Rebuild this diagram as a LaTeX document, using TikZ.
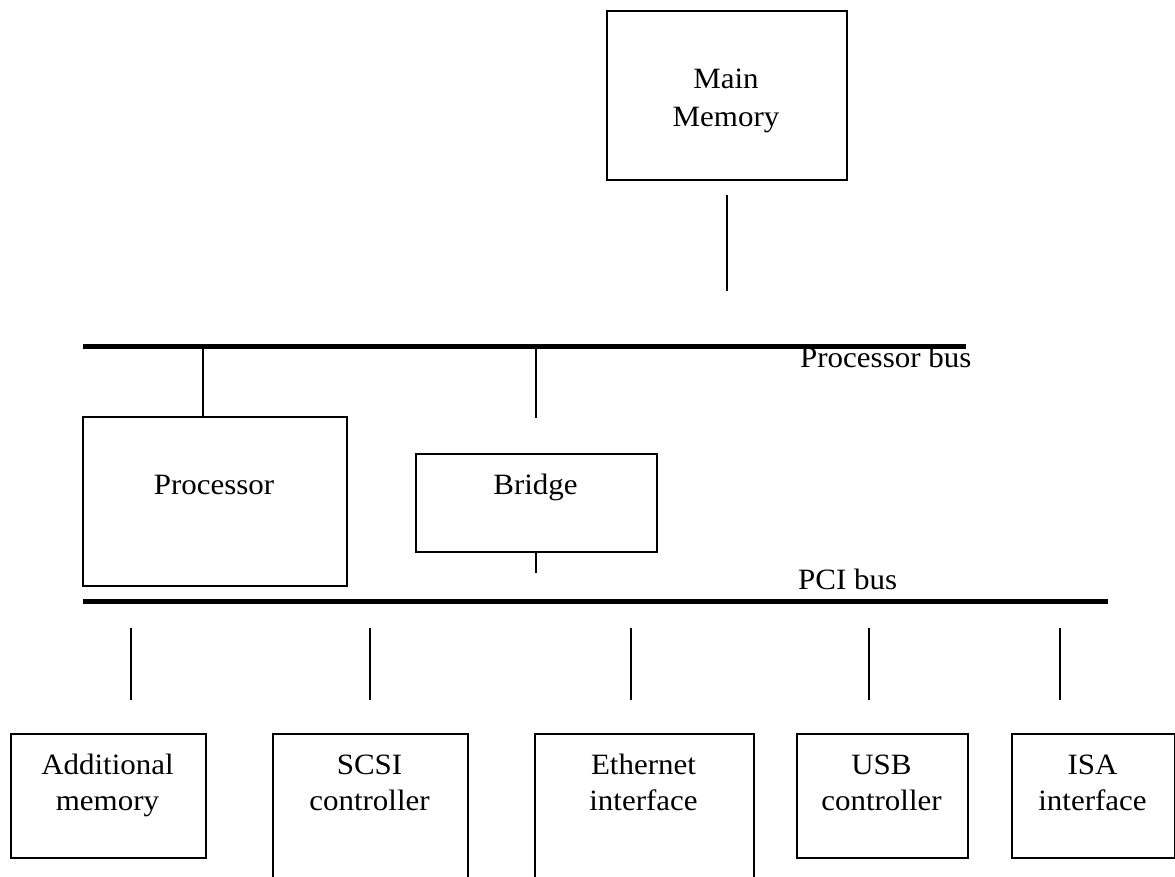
\documentclass[tikz,border=0pt]{standalone}
\usepackage{fontspec}
\setmainfont[FakeStretch=1.05]{Liberation Serif}
\begin{document}
\begin{tikzpicture}[x=1pt,y=-1pt,
  box/.style={draw, line width=1.8pt, inner sep=0pt, anchor=north west},
  lbl/.style={anchor=base, inner sep=0pt, font=\fontsize{29.5}{35}\selectfont},
  buslbl/.style={lbl, anchor=base west},
  wire/.style={line width=1.9pt},
  bus/.style={line width=5pt}]
\useasboundingbox (0,0) rectangle (1175,877);
\clip (0,0) rectangle (1175,877);
\fill[white] (0,0) rectangle (1175,877);

% boxes
\node[box, minimum width=240pt, minimum height=169pt] (mm) at (606,10) {};
\node[box, minimum width=264pt, minimum height=169pt] (proc) at (82,416) {};
\node[box, minimum width=241pt, minimum height=98pt] (bridge) at (415,453) {};
\node[box, minimum width=195pt, minimum height=124pt] (addmem) at (10,733) {};
\node[box, minimum width=195pt, minimum height=180pt] (scsi) at (272,733) {};
\node[box, minimum width=219pt, minimum height=180pt] (eth) at (534,733) {};
\node[box, minimum width=171pt, minimum height=124pt] (usb) at (796,733) {};
\node[box, minimum width=163pt, minimum height=124pt] (isa) at (1011,733) {};

% box texts
\node[lbl] (mmt1) at (726,89) {Main};
\node[lbl] (mmt2) at (726,127) {Memory};
\node[lbl] (proct) at (214,494) {Processor};
\node[lbl] (bridget) at (535.5,494) {Bridge};
\node[lbl] (addt1) at (107.5,774) {Additional};
\node[lbl] (addt2) at (107.5,810) {memory};
\node[lbl] (scsit1) at (369.5,774) {SCSI};
\node[lbl] (scsit2) at (369.5,810) {controller};
\node[lbl] (etht1) at (643.5,774) {Ethernet};
\node[lbl] (etht2) at (643.5,810) {interface};
\node[lbl] (usbt1) at (881.5,774) {USB};
\node[lbl] (usbt2) at (881.5,810) {controller};
\node[lbl] (isat1) at (1092.5,774) {ISA};
\node[lbl] (isat2) at (1092.5,810) {interface};

% bus labels
\node[buslbl] (pbl) at (800,367) {Processor bus};
\node[buslbl] (pcil) at (798,589) {PCI bus};

% buses
\coordinate (pbA) at (83,346);
\coordinate (pbB) at (966,346);
\coordinate (pciA) at (83,601);
\coordinate (pciB) at (1108,601);
\draw[bus] (pbA) -- (pbB);
\draw[bus] (pciA) -- (pciB);

% main memory stub
\coordinate (mmA) at (727,195);
\coordinate (mmB) at (727,291);
\draw[wire] (mmA) -- (mmB);

% processor to processor bus
\coordinate (procA) at (203,346);
\draw[wire] (procA) -- (procA |- proc.north);

% bridge stubs
\coordinate (brA) at (536,346);
\coordinate (brB) at (536,418);
\draw[wire] (brA) -- (brB);
\coordinate (brC) at (536,573);
\draw[wire] (brC |- bridge.south) -- (brC);

% PCI stubs
\foreach \x/\n in {131/a,370/b,631/c,869/d,1060/e}{
  \coordinate (s\n1) at (\x,628);
  \coordinate (s\n2) at (\x,700);
  \draw[wire] (s\n1) -- (s\n2);
}
\end{tikzpicture}
\end{document}
